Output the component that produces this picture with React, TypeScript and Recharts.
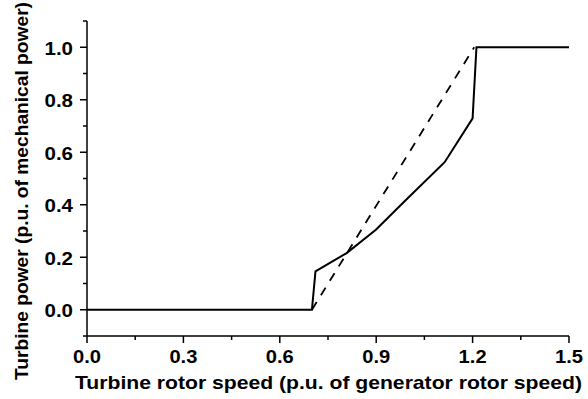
import React from 'react';
import { LineChart, Line, XAxis, YAxis, Label } from 'recharts';

// actual turbine characteristic (solid)
const speedActual = [0, 0.7, 0.711, 0.808, 0.899, 0.99, 1.113, 1.2, 1.212, 1.5];
const powerActual = [0, 0, 0.146, 0.216, 0.305, 0.415, 0.562, 0.729, 1.0, 1.0];

// ideal linear characteristic (dashed)
const speedIdeal = [0.7, 1.205];
const powerIdeal = [0, 1.0];

const xMajor = [0, 0.3, 0.6, 0.9, 1.2, 1.5];
const xMinor = [0.15, 0.45, 0.75, 1.05, 1.35];
const yMajor = [0, 0.2, 0.4, 0.6, 0.8, 1.0];
const yMinor = [-0.1, 0.1, 0.3, 0.5, 0.7, 0.9, 1.1];

const FONT = 'Arial, "Liberation Sans", sans-serif';

const actualData = speedActual.map((s, i) => ({ speed: s, power: powerActual[i] }));
const idealData = speedIdeal.map((s, i) => ({ speed: s, power: powerIdeal[i] }));

const isMajor = (list: number[], v: number) => list.some((m) => Math.abs(m - v) < 1e-6);

// the original type is slightly stretched horizontally, so labels get a fixed textLength
const XTick = ({ x, y, payload }: any) => {
  const major = isMajor(xMajor, payload.value);
  return (
    <g>
      <line x1={x} x2={x} y1={y} y2={y + (major ? 7 : 4)} stroke="#000" strokeWidth={1.5} />
      {major && (
        <text
          x={x}
          y={y + 27}
          textAnchor="middle"
          fontFamily={FONT}
          fontWeight="bold"
          fontSize={18}
          fill="#000"
          textLength={28}
          lengthAdjust="spacingAndGlyphs"
        >
          {payload.value.toFixed(1)}
        </text>
      )}
    </g>
  );
};

const YTick = ({ x, y, payload }: any) => {
  const major = isMajor(yMajor, payload.value);
  return (
    <g>
      <line x1={x} x2={x - (major ? 7 : 4)} y1={y} y2={y} stroke="#000" strokeWidth={1.5} />
      {major && (
        <text
          x={x - 14}
          y={y + 7.5}
          textAnchor="end"
          fontFamily={FONT}
          fontWeight="bold"
          fontSize={18}
          fill="#000"
          textLength={28.5}
          lengthAdjust="spacingAndGlyphs"
        >
          {payload.value.toFixed(1)}
        </text>
      )}
    </g>
  );
};

export default function App() {
  return (
    <div style={{ position: 'absolute', left: 0, top: 0, width: 588, height: 399, background: '#fff' }}>
      <LineChart width={588} height={399} margin={{ top: 21, right: 19, left: 27, bottom: 3 }}>
        <XAxis
          dataKey="speed"
          type="number"
          domain={[0, 1.5]}
          ticks={[...xMajor, ...xMinor].sort((a, b) => a - b)}
          interval={0}
          tickSize={0}
          tickMargin={0}
          tickLine={false}
          tick={<XTick />}
          height={60}
          allowDataOverflow
          axisLine={{ stroke: '#000', strokeWidth: 1.5 }}
        >
          <Label
            content={({ viewBox }: any) => (
              <text
                x={viewBox.x + viewBox.width / 2 + 0.5}
                y={388.5}
                textAnchor="middle"
                fontFamily={FONT}
                fontWeight="bold"
                fontSize={18.5}
                fill="#000"
                textLength={507}
                lengthAdjust="spacingAndGlyphs"
              >
                Turbine rotor speed (p.u. of generator rotor speed)
              </text>
            )}
          />
        </XAxis>
        <YAxis
          type="number"
          domain={[-0.1, 1.1]}
          ticks={[...yMajor, ...yMinor].sort((a, b) => a - b)}
          interval={0}
          tickSize={0}
          tickMargin={0}
          tickLine={false}
          tick={<YTick />}
          width={60}
          allowDataOverflow
          axisLine={{ stroke: '#000', strokeWidth: 1.5 }}
        >
          <Label
            content={() => {
              const cx = 27.5;
              const cy = 191;
              return (
                <text
                  x={cx}
                  y={cy}
                  transform={`rotate(-90, ${cx}, ${cy})`}
                  textAnchor="middle"
                  fontFamily={FONT}
                  fontWeight="bold"
                  fontSize={18.5}
                  fill="#000"
                  textLength={378}
                  lengthAdjust="spacingAndGlyphs"
                >
                  Turbine power (p.u. of mechanical power)
                </text>
              );
            }}
          />
        </YAxis>
        <Line
          data={idealData}
          dataKey="power"
          stroke="#000"
          strokeWidth={1.8}
          strokeDasharray="9 8"
          dot={false}
          isAnimationActive={false}
        />
        <Line
          data={actualData}
          dataKey="power"
          stroke="#000"
          strokeWidth={2}
          dot={false}
          isAnimationActive={false}
        />
      </LineChart>
    </div>
  );
}
